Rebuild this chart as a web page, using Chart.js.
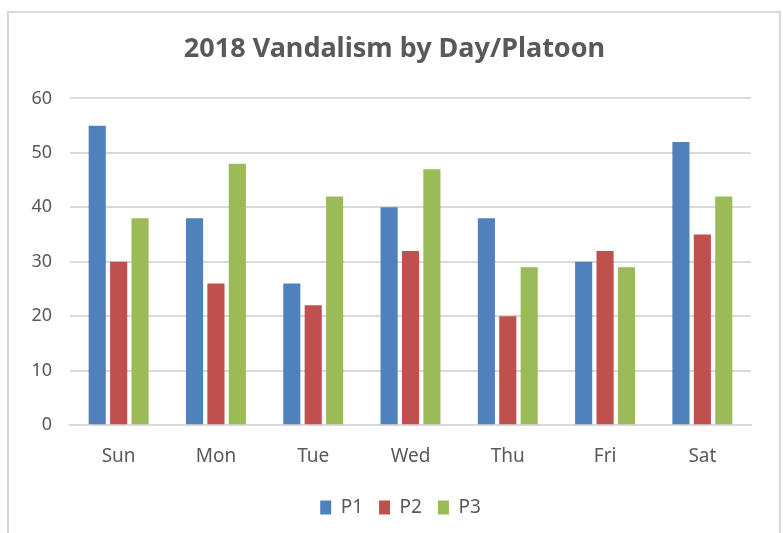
<!DOCTYPE html>
<html lang="en">
<head>
    <meta charset="UTF-8">
    <title>2018 Vandalism by Day/Platoon</title>
    <script src="https://cdn.jsdelivr.net/npm/chart.js"></script>
    <style>
        body {
            margin: 0;
            background: #ffffff;
        }
        #wrap {
            width: 783px;
            height: 533px;
        }
    </style>
</head>
<body>
    <div id="wrap"><canvas id="chart" width="783" height="533"></canvas></div>
    <script>
        // data
        const days = ["Sun", "Mon", "Tue", "Wed", "Thu", "Fri", "Sat"];
        const p1 = [55, 38, 26, 40, 38, 30, 52];
        const p2 = [30, 26, 22, 32, 20, 32, 35];
        const p3 = [38, 48, 42, 47, 29, 29, 42];
        const yTicks = [0, 10, 20, 30, 40, 50, 60];

        const textColor = "#595959";
        const fontFamily = "'Noto Sans', 'Open Sans', Arial, sans-serif";

        // light frame round the chart, like the Excel chart area
        const framePlugin = {
            id: "frame",
            beforeDraw(chart) {
                const ctx = chart.ctx;
                ctx.save();
                ctx.fillStyle = "#ffffff";
                ctx.fillRect(0, 0, chart.width, chart.height);
                ctx.strokeStyle = "#d9d9d9";
                ctx.lineWidth = 2;
                ctx.strokeRect(8, 12, 772, 540);
                ctx.restore();
            }
        };

        // nudge title and legend to where Excel put them
        const boxShift = {
            id: "boxShift",
            afterLayout(chart) {
                const lg = chart.legend;
                lg.left += 20;
                lg.right += 20;
                lg.top -= 6;
                lg.bottom -= 6;
                const tb = chart.titleBlock;
                tb.left += 14;
                tb.right += 14;
            }
        };

        new Chart(document.getElementById("chart").getContext("2d"), {
            type: "bar",
            data: {
                labels: days,
                datasets: [
                    { label: "P1", data: p1, backgroundColor: "#4f81bd" },
                    { label: "P2", data: p2, backgroundColor: "#c0504d" },
                    { label: "P3", data: p3, backgroundColor: "#9bbb59" }
                ]
            },
            options: {
                responsive: false,
                animation: false,
                datasets: {
                    bar: {
                        categoryPercentage: 0.66,
                        barPercentage: 0.8
                    }
                },
                layout: {
                    padding: { left: 10, right: 32, top: 33, bottom: 0 }
                },
                plugins: {
                    title: {
                        display: true,
                        text: "2018 Vandalism by Day/Platoon",
                        color: textColor,
                        font: { family: fontFamily, size: 27, weight: "bold" },
                        padding: { top: 0, bottom: 33 }
                    },
                    legend: {
                        position: "bottom",
                        labels: {
                            color: textColor,
                            font: { family: fontFamily, size: 19 },
                            boxWidth: 11,
                            boxHeight: 14,
                            padding: 16
                        }
                    },
                    tooltip: { enabled: false }
                },
                scales: {
                    x: {
                        grid: { display: false, drawTicks: false },
                        border: { color: "#d9d9d9", width: 2 },
                        ticks: {
                            color: textColor,
                            font: { family: fontFamily, size: 19 },
                            padding: 20
                        }
                    },
                    y: {
                        min: 0,
                        max: 60,
                        afterBuildTicks(scale) {
                            scale.ticks = yTicks.map(v => ({ value: v }));
                        },
                        afterFit(scale) {
                            scale.width = 60;
                        },
                        grid: { color: "#d9d9d9", lineWidth: 2, drawTicks: false },
                        border: { display: false },
                        ticks: {
                            color: textColor,
                            font: { family: fontFamily, size: 18 },
                            padding: 18
                        }
                    }
                }
            },
            plugins: [framePlugin, boxShift]
        });
    </script>
</body>
</html>
